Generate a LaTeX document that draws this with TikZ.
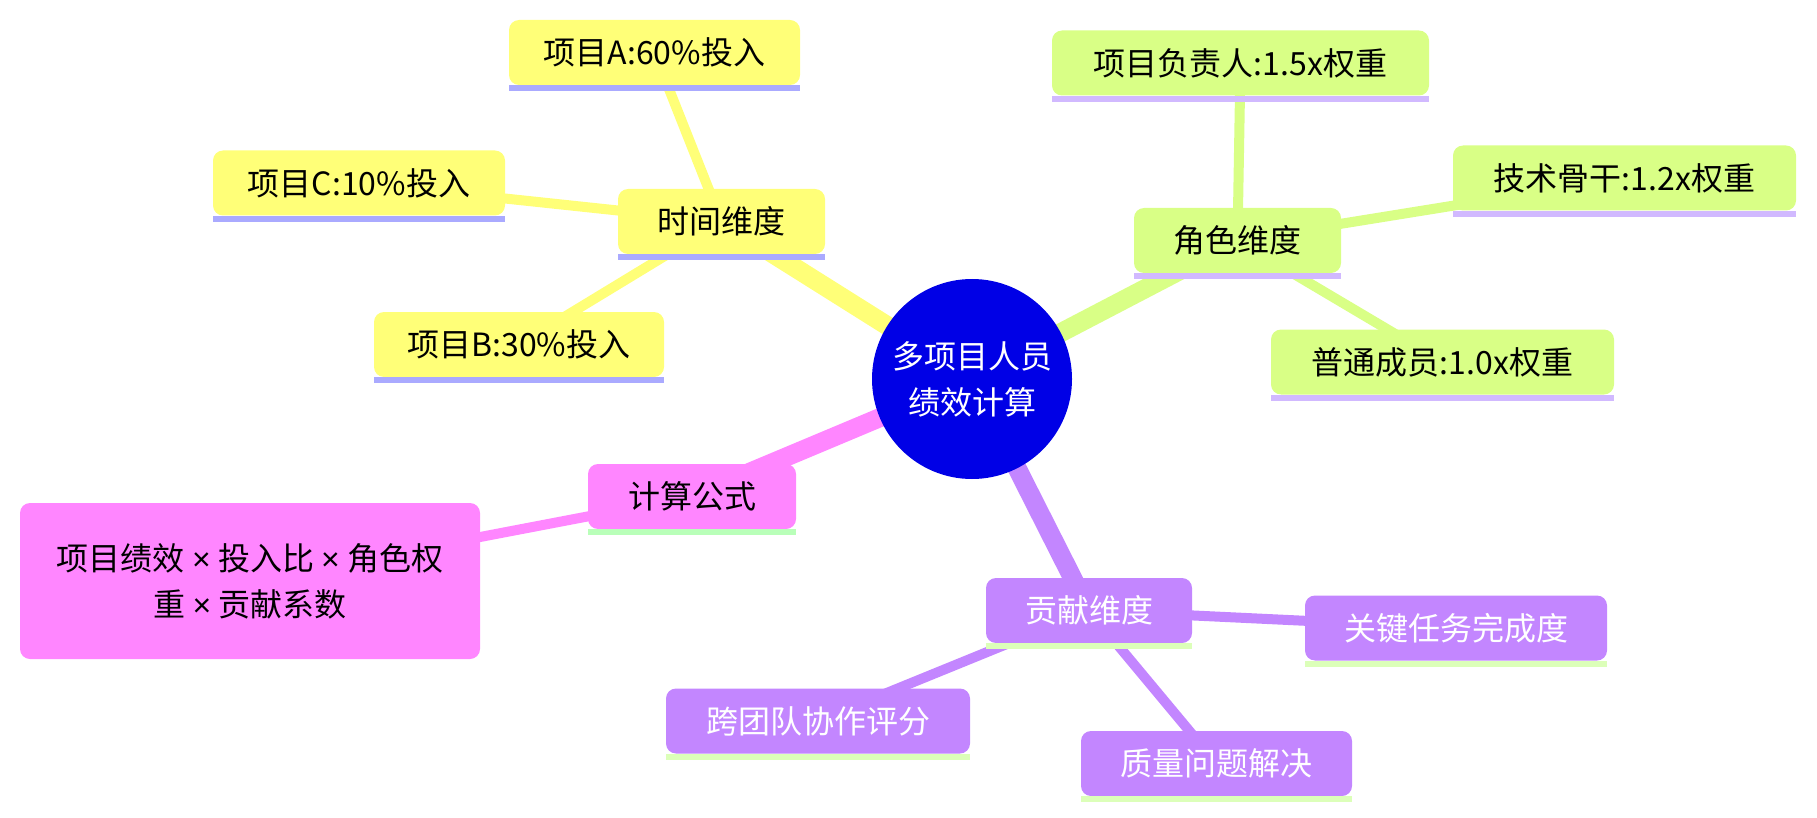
\documentclass[tikz,border=0pt]{standalone}
\usepackage{fontspec}
\setmainfont{Noto Sans CJK SC}
\newfontfamily\latf{Liberation Sans}
\newcommand{\tms}{{\latf ×}}
\pgfdeclarelayer{bg}
\pgfsetlayers{bg,main}
\definecolor{rootc}{HTML}{0000E6}
\definecolor{yel}{HTML}{FFFF78}
\definecolor{yelbar}{HTML}{AAAAFF}
\definecolor{grn}{HTML}{D9FF86}
\definecolor{grnbar}{HTML}{D1B9FF}
\definecolor{pnk}{HTML}{FF86FF}
\definecolor{pnkbar}{HTML}{B9FFB9}
\definecolor{pur}{HTML}{C386FF}
\definecolor{purbar}{HTML}{DCFFB9}
\begin{document}
\begin{tikzpicture}[x=1pt,y=-1pt,
  box/.style={rectangle, rounded corners=10pt, minimum height=65pt, inner sep=0pt,
    align=center, font=\fontsize{32}{46}\selectfont},
  ybox/.style={box, fill=yel, text=black},
  gbox/.style={box, fill=grn, text=black},
  pbox/.style={box, fill=pnk, text=black},
  ubox/.style={box, fill=pur, text=white},
  rootedge/.style={line width=19pt},
  leafedge/.style={line width=10pt}]
\useasboundingbox (0,0) rectangle (1817,818);

% root
\node[circle, fill=rootc, minimum size=200pt, inner sep=0pt, text=white, align=center,
  font=\fontsize{32}{46}\selectfont] (root) at (972,379) {多项目人员\\绩效计算};

% time section
\node[ybox, minimum width=207pt] (time) at (721.5,221.5) {时间维度};
\node[ybox, minimum width=291pt] (pa) at (654.5,52.5) {项目A:60\%投入};
\node[ybox, minimum width=292pt] (pc) at (359,183) {项目C:10\%投入};
\node[ybox, minimum width=290pt] (pb) at (519,344.5) {项目B:30\%投入};

% role section
\node[gbox, minimum width=207pt] (role) at (1237.5,240.5) {角色维度};
\node[gbox, minimum width=377pt] (lead) at (1240.5,63) {项目负责人:1.5x权重};
\node[gbox, minimum width=343pt] (tech) at (1624.5,178) {技术骨干:1.2x权重};
\node[gbox, minimum width=343pt] (norm) at (1442.5,362) {普通成员:1.0x权重};

% formula section
\node[pbox, minimum width=208pt] (calc) at (692,496.5) {计算公式};
\node[pbox, minimum width=460pt, minimum height=156pt] (form) at (250,581)
  {项目绩效 \tms{} 投入比 \tms{} 角色权\\重 \tms{} 贡献系数};

% contribution section
\node[ubox, minimum width=206pt] (cont) at (1089,610.5) {贡献维度};
\node[ubox, minimum width=302pt] (key) at (1456,628) {关键任务完成度};
\node[ubox, minimum width=304pt] (cross) at (818,721) {跨团队协作评分};
\node[ubox, minimum width=271pt] (qual) at (1216.5,763.5) {质量问题解决};

% bars
\foreach \n in {time,pa,pc,pb}
  \fill[yelbar] (\n.south west) rectangle ([yshift=-6pt]\n.south east);
\foreach \n in {role,lead,tech,norm}
  \fill[grnbar] (\n.south west) rectangle ([yshift=-6pt]\n.south east);
\fill[pnkbar] (calc.south west) rectangle ([yshift=-6pt]calc.south east);
\foreach \n in {cont,key,cross,qual}
  \fill[purbar] (\n.south west) rectangle ([yshift=-6pt]\n.south east);

% edges
\begin{pgfonlayer}{bg}
\draw[yel, rootedge] (root.center) -- (time.center);
\draw[yel, leafedge] (time.center) -- (pa.center);
\draw[yel, leafedge] (time.center) -- (pc.center);
\draw[yel, leafedge] (time.center) -- (pb.center);
\draw[grn, rootedge] (root.center) -- (role.center);
\draw[grn, leafedge] (role.center) -- (lead.center);
\draw[grn, leafedge] (role.center) -- (tech.center);
\draw[grn, leafedge] (role.center) -- (norm.center);
\draw[pnk, rootedge] (root.center) -- (calc.center);
\draw[pnk, leafedge] (calc.center) -- (form.center);
\draw[pur, rootedge] (root.center) -- (cont.center);
\draw[pur, leafedge] (cont.center) -- (key.center);
\draw[pur, leafedge] (cont.center) -- (cross.center);
\draw[pur, leafedge] (cont.center) -- (qual.center);
\end{pgfonlayer}
\end{tikzpicture}
\end{document}
